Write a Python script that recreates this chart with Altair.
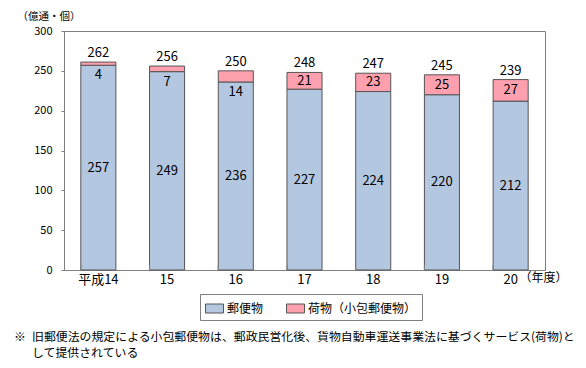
import altair as alt
import pandas as pd

years = ["平成14", "15", "16", "17", "18", "19", "20"]
mail = [257, 249, 236, 227, 224, 220, 212]
parcel = [4, 7, 14, 21, 23, 25, 27]
totals = [262, 256, 250, 248, 247, 245, 239]
series = ["郵便物", "荷物（小包郵便物）"]
colors = ["#B4C7E0", "#FFA0AE"]
note1 = "旧郵便法の規定による小包郵便物は、郵政民営化後、貨物自動車運送事業法に基づくサービス(荷物)と"
note2 = "して提供されている"

FONT = "Noto Sans CJK JP"
W, H = 481, 239

rows = []
for y, m, p in zip(years, mail, parcel):
    rows.append({"year": y, "series": series[0], "start": 0, "end": m, "val": m})
    rows.append({"year": y, "series": series[1], "start": m, "end": m + p, "val": p})
long = pd.DataFrame(rows)
wide = pd.DataFrame({"year": years, "mail": mail, "parcel": parcel, "total": totals})
wide["top"] = wide["mail"] + wide["parcel"]
wide["mid_mail"] = wide["mail"] / 2
wide["mid_parcel"] = wide["mail"] + wide["parcel"] / 2

xscale = alt.Scale(paddingInner=0.49, paddingOuter=0.245)
yscale = alt.Scale(domain=[0, 300], nice=False)

xaxis = alt.Axis(title="（年度）", titleX=455, titleY=7, titleAlign="left",
                 titleBaseline="middle", titleFontWeight="normal", titleFontSize=12,
                 labelAngle=0, ticks=False, labelFontSize=13, labelPadding=3,
                 domainColor="#808080")
yaxis = alt.Axis(values=[0, 50, 100, 150, 200, 250, 300], grid=False,
                 labelOverlap=False,
                 title="（億通・個）", titleAngle=0, titleX=-47, titleY=-15,
                 titleAlign="left", titleBaseline="middle",
                 titleFontWeight="normal", titleFontSize=10.5,
                 tickSize=3, tickColor="#808080", domainColor="#808080",
                 labelFontSize=11, labelPadding=9)

def xn(**kw):
    return alt.X("year:N", sort=years, scale=xscale, axis=xaxis, **kw)
def yn(f):
    return alt.Y(f, scale=yscale, axis=yaxis)

bars = alt.Chart(long).mark_bar(stroke="#555555", strokeWidth=1).encode(
    x=xn(),
    y=yn("start:Q"),
    y2="end:Q",
    color=alt.Color("series:N", scale=alt.Scale(domain=series, range=colors),
                    legend=alt.Legend(title=None, orient="none", legendX=136, legendY=263,
                                      direction="horizontal", strokeColor="#808080",
                                      padding=5, labelFontSize=12, labelFont=FONT,
                                      symbolType="M-1,-0.5L1,-0.5L1,0.5L-1,0.5Z",
                                      symbolSize=324, symbolStrokeColor="#555555",
                                      symbolStrokeWidth=1, symbolOpacity=1,
                                      columnPadding=20, labelOffset=3)),
)

base = alt.Chart(wide)
mail_lab = base.mark_text(fontSize=13, font=FONT, color="black").encode(
    x=xn(), y=yn("mid_mail:Q"), text="mail:Q")
parcel_big = base.transform_filter("datum.parcel >= 20").mark_text(
    fontSize=13, font=FONT, color="black").encode(
    x=xn(), y=yn("mid_parcel:Q"), text="parcel:Q")
parcel_small = base.transform_filter("datum.parcel < 20").mark_text(
    fontSize=13, font=FONT, color="black", dy=10).encode(
    x=xn(), y=yn("mail:Q"), text="parcel:Q")
total_lab = base.mark_text(fontSize=13, font=FONT, color="black", baseline="bottom", dy=-2).encode(
    x=xn(), y=yn("top:Q"), text="total:Q")
xticks = base.mark_rule(color="#808080", strokeWidth=1).encode(
    x=xn(bandPosition=0),
    y=alt.value(H), y2=alt.value(H - 5))

def note(t, x, y):
    return alt.Chart(pd.DataFrame({"t": [t]})).mark_text(
        align="left", baseline="middle", fontSize=11.9, font=FONT, color="black").encode(
        x=alt.value(x), y=alt.value(y), text="t:N")

n1a = note("※", -50, 306)
n1 = note(note1, -32, 306)
n2 = note(note2, -32, 322)

chart = alt.layer(bars, mail_lab, parcel_big, parcel_small, total_lab, xticks, n1a, n1, n2).properties(
    width=W, height=H,
    autosize=alt.AutoSizeParams(type="none"),
    padding={"left": 56, "top": 23, "right": 33, "bottom": 90},
).configure(font=FONT).configure_view(stroke="#808080").configure_axis(
    labelFont=FONT, titleFont=FONT, labelColor="black", titleColor="black")

chart.save("out.html", embed_options={"renderer": "svg", "actions": False})
